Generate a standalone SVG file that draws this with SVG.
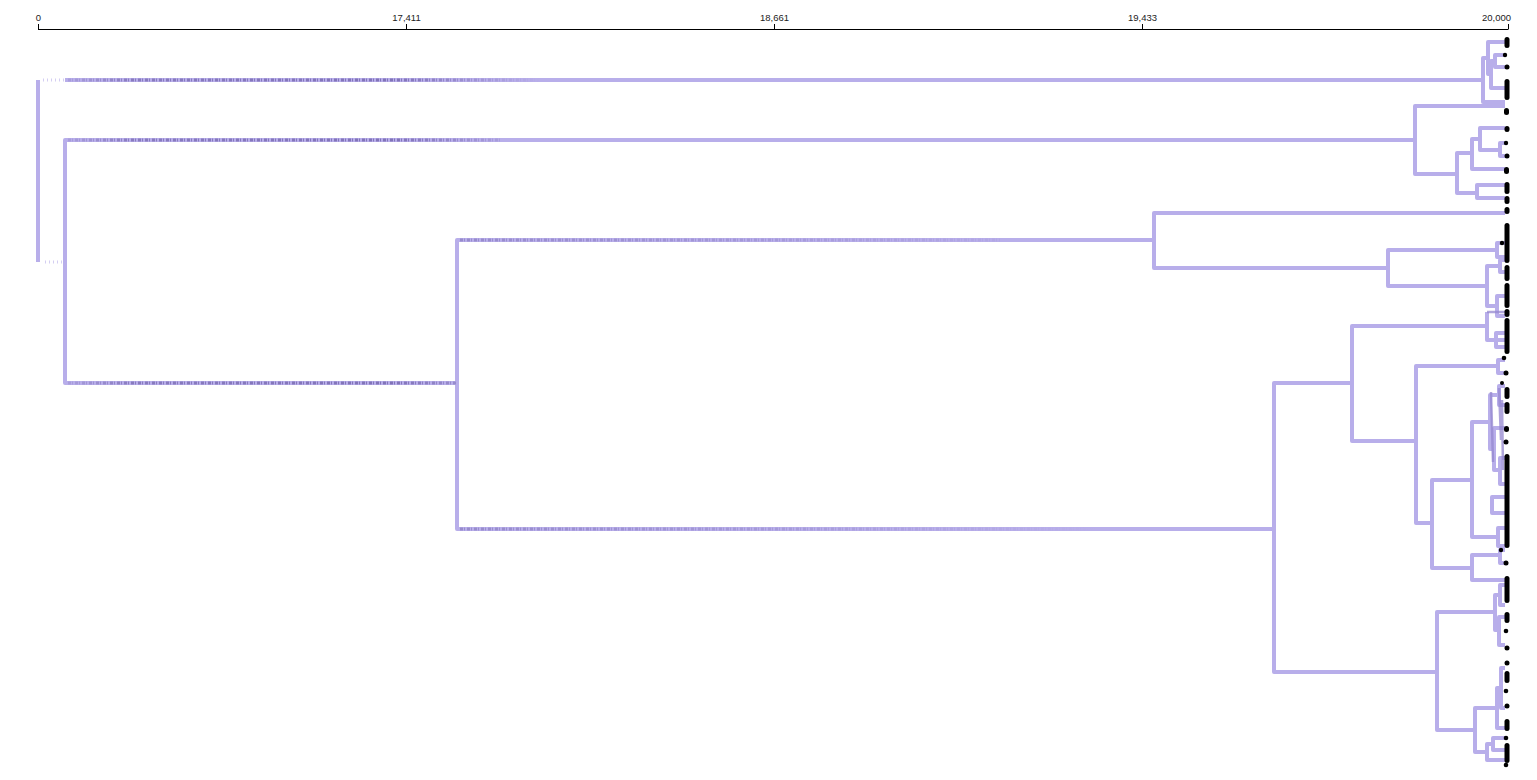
<svg xmlns="http://www.w3.org/2000/svg" width="1537" height="780" viewBox="0 0 1537 780">
<style>
.ax{stroke:#000;stroke-width:1;fill:none}
.tl{font-family:"Liberation Sans",Arial,sans-serif;font-size:9.5px;fill:#222}
.br{fill:none;stroke:#b8aeea;stroke-width:4;stroke-linejoin:round}
.dk{fill:none;stroke-width:3;stroke-dasharray:3 1 1 2}
.fa{fill:none;stroke:#b8aeea;stroke-width:3;stroke-dasharray:1 3;opacity:0.6}
.mx{fill:none;stroke:#9487cf;stroke-width:2.5;opacity:0.75}
.lf{fill:#000}
</style>
<defs>
<linearGradient id="gA" gradientUnits="userSpaceOnUse" x1="60" y1="0" x2="540" y2="0">
<stop offset="0" stop-color="#6f60a8" stop-opacity="0.15"/>
<stop offset="0.15" stop-color="#6f60a8" stop-opacity="0.65"/>
<stop offset="0.7" stop-color="#6f60a8" stop-opacity="0.75"/>
<stop offset="1" stop-color="#6f60a8" stop-opacity="0"/>
</linearGradient>
<linearGradient id="gB" gradientUnits="userSpaceOnUse" x1="457" y1="0" x2="1100" y2="0">
<stop offset="0" stop-color="#6f60a8" stop-opacity="0.45"/>
<stop offset="0.5" stop-color="#6f60a8" stop-opacity="0.25"/>
<stop offset="1" stop-color="#6f60a8" stop-opacity="0"/>
</linearGradient>
</defs>
<rect width="1537" height="780" fill="#fff"/>
<g id="axis">
<path class="ax" d="M38 29.5H1508M38.5 24V29.5M406.5 24V29.5M774.5 24V29.5M1142.5 24V29.5M1508.5 24V29.5"/>
<text class="tl" x="38.5" y="21" text-anchor="middle">0</text>
<text class="tl" x="406.5" y="21" text-anchor="middle">17,411</text>
<text class="tl" x="774.5" y="21" text-anchor="middle">18,661</text>
<text class="tl" x="1142.5" y="21" text-anchor="middle">19,433</text>
<text class="tl" x="1511" y="21" text-anchor="end">20,000</text>
</g>
<g id="connectors">
<path class="br" d="M38 80V262"/>
<path class="fa" d="M43 80H65M45 262H63"/>
<path class="br" d="M65 80H1483"/>
<path class="br" d="M1415 140H65V383H457"/>
<path class="br" d="M1154 240H457V529H1274"/>
<path class="dk" stroke="url(#gA)" d="M68 80H540M68 140H500M68 383H457"/>
<path class="dk" stroke="url(#gB)" d="M460 240H1000M460 529H1100"/>
<path class="br" d="M1505 213H1154V268H1388"/>
<path class="br" d="M1497 250H1388V286H1487"/>
<path class="br" d="M1505 243H1497V257H1505"/>
<path class="br" d="M1500 266H1487V306H1497"/>
<path class="br" d="M1505 260H1500V272H1505"/>
<path class="br" d="M1505 296H1497V316H1505"/>
<path class="br" d="M1352 383H1274V672H1437"/>
<path class="br" d="M1487 326H1352V441H1416"/>
<path class="br" d="M1505 340H1487V312"/>
<path class="br" d="M1505 333H1496V347H1505"/>
<path class="br" d="M1498 366H1416V523H1432"/>
<path class="br" d="M1505 360H1498V373H1505"/>
<path class="br" d="M1472 480H1432V568H1472"/>
<path class="br" d="M1490 422H1472V537H1498"/>
<path class="br" d="M1499 395H1490V449H1494"/>
<path class="br" d="M1505 386H1499V405H1505"/>
<path class="br" d="M1505 428H1494V470H1500"/>
<path class="br" d="M1505 458H1500V484H1505"/>
<path class="br" d="M1505 497H1492V513H1505"/>
<path class="br" d="M1505 528H1498V546H1505"/>
<path class="br" d="M1500 555H1472V580H1505"/>
<path class="br" d="M1505 550H1500V563H1505"/>
<path class="br" d="M1495 612H1437V730H1475"/>
<path class="br" d="M1500 595H1495V630H1499"/>
<path class="br" d="M1505 585H1500V605H1505"/>
<path class="br" d="M1505 617H1499V645H1505"/>
<path class="br" d="M1497 708H1475V752H1487"/>
<path class="br" d="M1501 688H1497V728H1505"/>
<path class="br" d="M1505 668H1501V708H1505"/>
<path class="br" d="M1493 744H1487V760H1505"/>
<path class="br" d="M1505 738H1493V750H1505"/>
<path class="br" d="M1488 58H1483V102H1505"/>
<path class="br" d="M1505 42H1488V74H1491"/>
<path class="br" d="M1495 61H1491V88H1505"/>
<path class="br" d="M1505 55H1495V67H1505"/>
<path class="br" d="M1505 106H1415V174H1457"/>
<path class="br" d="M1472 153H1457V193H1477"/>
<path class="br" d="M1480 139H1472V169H1505"/>
<path class="br" d="M1505 128H1480V150H1500"/>
<path class="br" d="M1505 143H1500V156H1505"/>
<path class="br" d="M1505 185H1477V198H1505"/>
<path class="mx" d="M1487 312H1505M1491 392L1493 462M1499 388L1501 440M1502 400L1503 470"/>
</g>
<g id="leaves">
<rect class="lf" x="1504.5" y="37" width="5" height="11" rx="2.5"/>
<circle class="lf" cx="1505" cy="55" r="2.2"/>
<circle class="lf" cx="1507" cy="67" r="2.5"/>
<rect class="lf" x="1504.5" y="79" width="5" height="21" rx="2.5"/>
<rect class="lf" x="1504" y="108" width="5" height="7" rx="2.5"/>
<rect class="lf" x="1504.5" y="126" width="5" height="6" rx="2.5"/>
<circle class="lf" cx="1506" cy="143" r="2.2"/>
<circle class="lf" cx="1507" cy="156" r="2.5"/>
<rect class="lf" x="1504" y="167" width="5" height="7" rx="2.5"/>
<rect class="lf" x="1504.5" y="182" width="5" height="12" rx="2.5"/>
<rect class="lf" x="1504.5" y="196" width="5" height="8" rx="2.5"/>
<rect class="lf" x="1504.5" y="207" width="5" height="7" rx="2.5"/>
<rect class="lf" x="1504.5" y="223" width="5" height="40" rx="2.5"/>
<circle class="lf" cx="1502" cy="243" r="2.2"/>
<rect class="lf" x="1504.5" y="265" width="5" height="16" rx="2.5"/>
<rect class="lf" x="1504.5" y="283" width="5" height="25" rx="2.5"/>
<rect class="lf" x="1504.5" y="309" width="5" height="8" rx="2.5"/>
<rect class="lf" x="1504.5" y="318" width="5" height="36" rx="2.5"/>
<circle class="lf" cx="1504" cy="358" r="2.3"/>
<circle class="lf" cx="1506" cy="373" r="2.5"/>
<circle class="lf" cx="1502" cy="383" r="2"/>
<rect class="lf" x="1504.5" y="387" width="5" height="12" rx="2.5"/>
<rect class="lf" x="1504.5" y="402" width="5" height="12" rx="2.5"/>
<rect class="lf" x="1504" y="426" width="5" height="6" rx="2.5"/>
<circle class="lf" cx="1506" cy="442" r="2.5"/>
<rect class="lf" x="1504.5" y="454" width="5" height="94" rx="2.5"/>
<circle class="lf" cx="1501" cy="550" r="2.2"/>
<circle class="lf" cx="1506" cy="563" r="2.5"/>
<rect class="lf" x="1504.5" y="576" width="5" height="27" rx="2.5"/>
<rect class="lf" x="1504.5" y="612" width="5" height="11" rx="2.5"/>
<circle class="lf" cx="1506" cy="631" r="2.3"/>
<circle class="lf" cx="1507" cy="648" r="2.5"/>
<circle class="lf" cx="1507" cy="663" r="2.5"/>
<rect class="lf" x="1504.5" y="671" width="5" height="12" rx="2.5"/>
<circle class="lf" cx="1506" cy="691" r="2.3"/>
<circle class="lf" cx="1507" cy="706" r="2.5"/>
<rect class="lf" x="1504.5" y="719" width="5" height="12" rx="2.5"/>
<circle class="lf" cx="1506" cy="738" r="2.3"/>
<rect class="lf" x="1504.5" y="743" width="5" height="20" rx="2.5"/>
<circle class="lf" cx="1506" cy="765" r="2.3"/>
</g>
</svg>
